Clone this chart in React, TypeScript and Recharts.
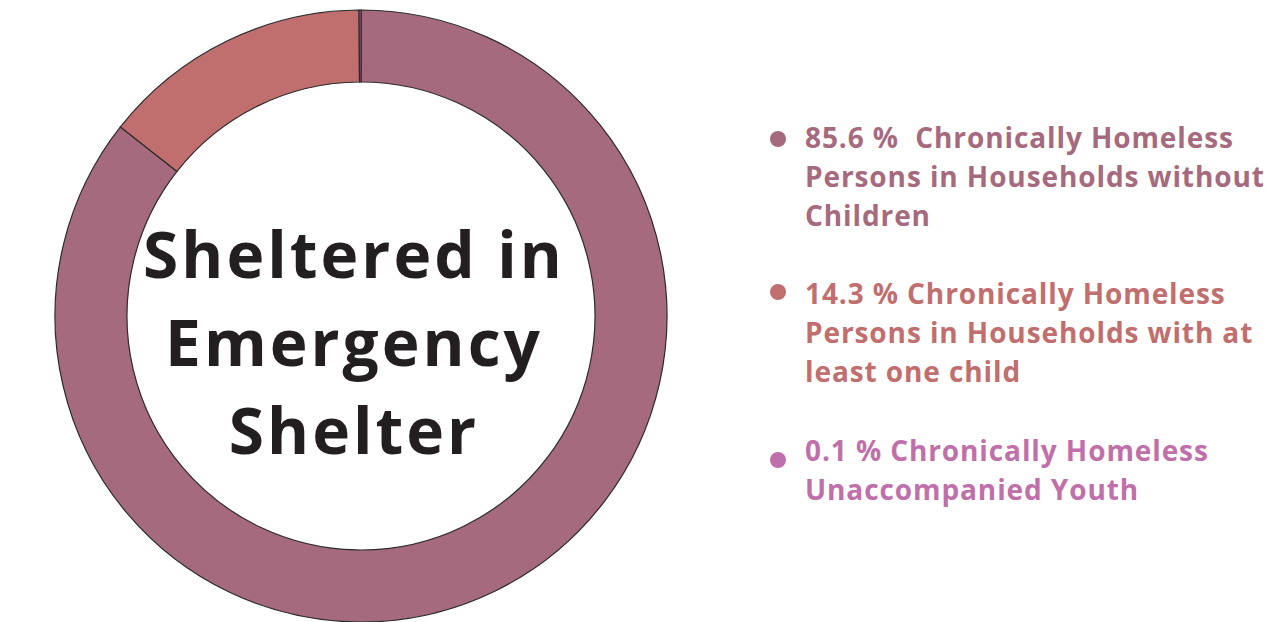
import { Cell, Legend, Pie, PieChart } from "recharts";

const categories = [
  "Chronically Homeless Persons in Households without Children",
  "Chronically Homeless Persons in Households with at least one child",
  "Chronically Homeless Unaccompanied Youth",
];
const shares = [85.6, 14.3, 0.1];
const labelLines = [
  ["85.6 %  Chronically Homeless", "Persons in Households without", "Children"],
  ["14.3 % Chronically Homeless", "Persons in Households with at", "least one child"],
  ["0.1 % Chronically Homeless", "Unaccompanied Youth"],
];
const colors = ["#A66A7E", "#C06E6E", "#BF6FAA"];
const centerTitle = ["Sheltered in", "Emergency", "Shelter"];

const data = categories.map((name, i) => ({ name, value: shares[i] }));

const FONT = "'Open Sans', Lato, sans-serif";

function LegendList() {
  const tops = [118, 274, 431];
  const bulletY = [139, 292, 460];
  return (
    <div style={{ position: "relative", width: 500, height: 622 }}>
      {labelLines.map((lines, i) => (
        <div key={i}>
          <div
            style={{
              position: "absolute",
              left: 2,
              top: bulletY[i] - 8,
              width: 16,
              height: 16,
              borderRadius: 8,
              background: colors[i],
            }}
          />
          <div
            style={{
              position: "absolute",
              left: 37,
              top: tops[i],
              fontFamily: FONT,
              fontWeight: 700,
              fontSize: 28,
              letterSpacing: 0.9,
              lineHeight: "39px",
              color: colors[i],
              whiteSpace: "pre",
              textAlign: "left",
            }}
          >
            {lines.map((l, j) => (
              <div key={j}>{l}</div>
            ))}
          </div>
        </div>
      ))}
    </div>
  );
}

export default function App() {
  return (
    <div style={{ position: "absolute", left: 0, top: 0, width: 1268, height: 622, background: "#fff", overflow: "hidden" }}>
      <PieChart width={1268} height={622} margin={{ top: 0, right: 0, bottom: 0, left: 0 }}>
        <Pie
          data={data}
          dataKey="value"
          nameKey="name"
          cx={361}
          cy={316}
          innerRadius={234}
          outerRadius={306}
          startAngle={90}
          endAngle={-270}
          stroke="#2b2b2b"
          strokeWidth={1.2}
          isAnimationActive={false}
        >
          {data.map((d, i) => (
            <Cell key={d.name} fill={colors[i]} />
          ))}
        </Pie>
        <text
          x={354}
          textAnchor="middle"
          fontFamily={FONT}
          fontWeight={700}
          fontSize={64}
          letterSpacing={3}
          fill="#231F20"
        >
          {centerTitle.map((t, i) => (
            <tspan key={t} x={354} y={278 + i * 88}>
              {t}
            </tspan>
          ))}
        </text>
        <Legend
          content={() => <LegendList />}
          wrapperStyle={{ left: 768, top: 0, width: 500, height: 622 }}
        />
      </PieChart>
    </div>
  );
}
